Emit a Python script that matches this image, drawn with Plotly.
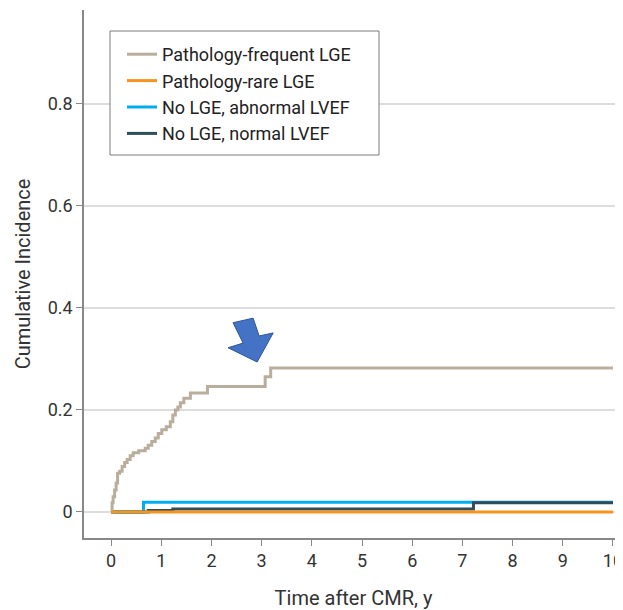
import plotly.graph_objects as go

# Data
freq_t = [0, 0.02, 0.04, 0.07, 0.10, 0.13, 0.17, 0.22, 0.27, 0.32, 0.38, 0.44, 0.55, 0.68, 0.74,
          0.81, 0.88, 0.94, 1.01, 1.10, 1.18, 1.23, 1.28, 1.33, 1.38, 1.45, 1.58, 1.92, 3.07, 3.18, 10.0]
freq_v = [0, 0.018, 0.03, 0.043, 0.057, 0.076, 0.08, 0.089, 0.097, 0.103, 0.11, 0.116, 0.12, 0.125, 0.131,
          0.138, 0.145, 0.154, 0.161, 0.167, 0.177, 0.19, 0.2, 0.206, 0.214, 0.223, 0.233, 0.246, 0.265, 0.282, 0.282]
rare_t = [0, 10.0]
rare_v = [0, 0]
abn_t = [0, 0.645, 10.0]
abn_v = [0, 0.019, 0.019]
norm_t = [0, 0.74, 1.23, 7.22, 10.0]
norm_v = [0, 0.003, 0.006, 0.018, 0.018]

names = ["Pathology-frequent LGE", "Pathology-rare LGE", "No LGE, abnormal LVEF", "No LGE, normal LVEF"]
colors = ["#B9AE9C", "#F7941D", "#00AEEF", "#2F4D5B"]

y_ticks = [0, 0.2, 0.4, 0.6, 0.8]
y_labels = ["0", "0.2", "0.4", "0.6", "0.8"]
x_ticks = list(range(0, 11))

FONT = "Roboto, sans-serif"

# page body has an 8px default margin, so the figure is 8px smaller than the window
W, H = 615, 602
ML, MT, MB = 76, 2, 72
PW, PH = W - ML, H - MT - MB


def px_x(p):  # window px -> paper fraction
    return (p - 8 - ML) / PW


def px_y(p):
    return (H - MB - (p - 8)) / PH


fig = go.Figure()
series = [(abn_t, abn_v, 2), (norm_t, norm_v, 3), (freq_t, freq_v, 0), (rare_t, rare_v, 1)]
for t, v, i in series:
    fig.add_trace(go.Scatter(x=t, y=v, mode="lines", line=dict(shape="hv", color=colors[i], width=3),
                             name=names[i], legendrank=i + 1))

# arrow annotation (blue)
arrow_pts = [(2.43, 0.371), (2.83, 0.380), (2.95, 0.345), (3.23, 0.351), (2.91, 0.294), (2.33, 0.322), (2.63, 0.331)]
path = "M " + " L ".join(f"{x},{y}" for x, y in arrow_pts) + " Z"
fig.add_shape(type="path", path=path, xref="x", yref="y", fillcolor="#4472C4",
              line=dict(color="#2F5597", width=1))

# partial top gridline remnant
fig.add_shape(type="line", xref="paper", yref="paper", x0=px_x(357), x1=1.0,
              y0=px_y(2), y1=px_y(2), line=dict(color="#dddddd", width=2))

# legend frame
fig.add_shape(type="rect", xref="paper", yref="paper", x0=px_x(110), x1=px_x(379),
              y0=px_y(155), y1=px_y(31), line=dict(color="#7a7a7a", width=1), fillcolor="white",
              layer="above")

fig.update_layout(
    width=W, height=H,
    margin=dict(l=ML, r=0, t=MT, b=MB),
    paper_bgcolor="white", plot_bgcolor="white",
    font=dict(family=FONT, size=18, color="#333333"),
    showlegend=True,
    legend=dict(x=px_x(122), y=px_y(36), xanchor="left", yanchor="top",
                borderwidth=0, bgcolor="rgba(0,0,0,0)",
                font=dict(family=FONT, size=18, color="#222222"), tracegroupgap=0),
    xaxis=dict(range=[-0.54, 10.2], tickvals=x_ticks, ticks="outside", ticklen=6, tickcolor="#888888",
               showline=True, linecolor="#888888", linewidth=1.5, showgrid=False, zeroline=False,
               automargin=False, ticklabeloverflow="allow",
               title=dict(text="Time after CMR, y", font=dict(size=20), standoff=21),
               tickfont=dict(size=18)),
    yaxis=dict(range=[-0.051, 0.984], tickvals=y_ticks, ticktext=y_labels, ticks="outside", ticklen=6,
               tickcolor="#888888", showline=True, linecolor="#888888", linewidth=1.5,
               showgrid=True, gridcolor="#dddddd", gridwidth=1.5, zeroline=False,
               automargin=False,
               title=dict(text="Cumulative Incidence", font=dict(size=20), standoff=12),
               tickfont=dict(size=18)),
)

fig.write_html("out.html")
